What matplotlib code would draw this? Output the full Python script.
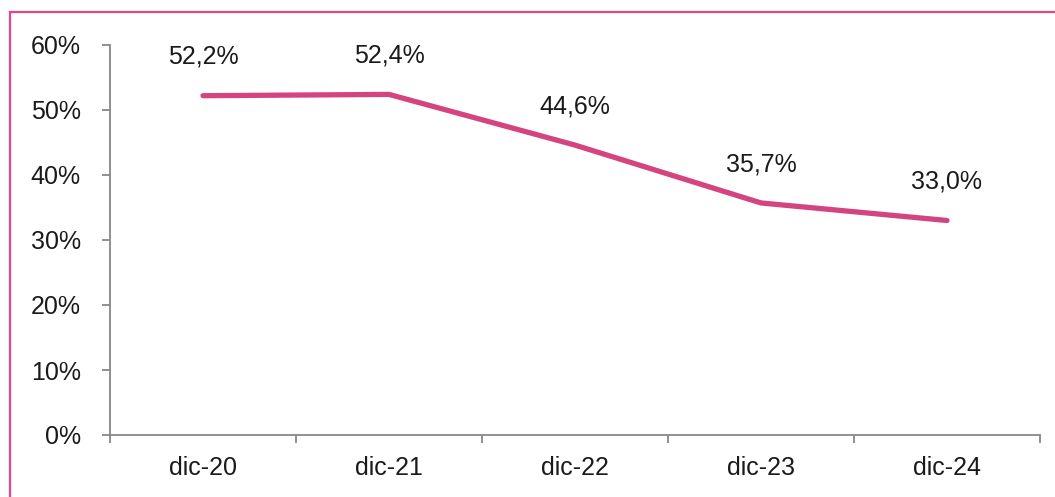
import numpy as np
import matplotlib.pyplot as plt
from matplotlib.patches import Rectangle
from matplotlib.ticker import FuncFormatter

# Data
categories = ["dic-20", "dic-21", "dic-22", "dic-23", "dic-24"]
values = [52.2, 52.4, 44.6, 35.7, 33.0]
value_labels = ["52,2%", "52,4%", "44,6%", "35,7%", "33,0%"]

plt.rcParams['font.family'] = ['Liberation Sans', 'DejaVu Sans']

fig = plt.figure(figsize=(10.55, 4.97), dpi=100)
ax = fig.add_axes([110 / 1055, 1 - 435 / 497, 930 / 1055, 390 / 497])

x = np.arange(len(categories))
ax.plot(x, values, color="#D4447F", linewidth=3.8, solid_capstyle="round", solid_joinstyle="round")

for xi, v, lab in zip(x, values, value_labels):
    ax.annotate(lab, (xi, v), xytext=(0, 28), textcoords="offset points",
                ha="center", va="center", fontsize=18, color="#1a1a1a")

ax.set_xlim(-0.5, len(categories) - 0.5)
ax.set_ylim(0, 60)
ax.set_yticks(np.arange(0, 61, 10))
ax.yaxis.set_major_formatter(FuncFormatter(lambda v, p: f"{v:.0f}%"))

# boundary ticks on x, labels at the centres
ax.set_xticks(np.arange(-0.5, len(categories), 1.0))
ax.set_xticklabels([])
ax.set_xticks(x, minor=True)
ax.set_xticklabels(categories, minor=True)
ax.tick_params(axis="x", which="major", length=6, width=1.3, color="#888888", direction="out")
ax.tick_params(axis="x", which="minor", length=0, pad=15, labelsize=18, labelcolor="#1a1a1a")
ax.tick_params(axis="y", length=6, width=1.3, color="#888888", pad=15, labelsize=18, labelcolor="#1a1a1a")

for s in ["top", "right"]:
    ax.spines[s].set_visible(False)
for s in ["left", "bottom"]:
    ax.spines[s].set_color("#888888")
    ax.spines[s].set_linewidth(1.3)

# pink frame around the chart area (runs off right and bottom)
fig.patches.append(Rectangle((10 / 1055, -0.05), 1.1, 1 - 12 / 497 + 0.05, transform=fig.transFigure,
                             fill=False, edgecolor="#E0468A", linewidth=1.6))

fig.savefig("out.png", dpi=100)
